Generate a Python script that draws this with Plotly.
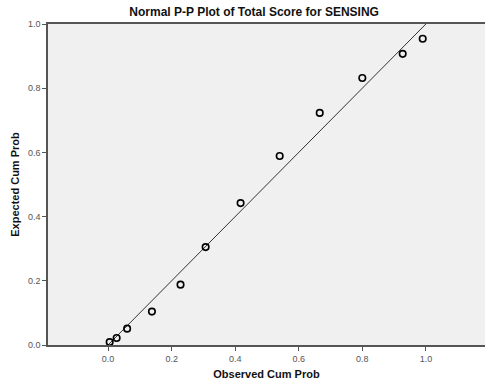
import plotly.graph_objects as go

observed = [0.005, 0.027, 0.060, 0.138, 0.228, 0.307, 0.417, 0.540, 0.666, 0.800, 0.927, 0.990]
expected = [0.009, 0.022, 0.051, 0.104, 0.188, 0.305, 0.442, 0.589, 0.723, 0.832, 0.907, 0.954]
ref_line = [0.0, 1.0]
tick_vals = [0.0, 0.2, 0.4, 0.6, 0.8, 1.0]
tick_text = ["0.0", "0.2", "0.4", "0.6", "0.8", "1.0"]

fig = go.Figure()
fig.add_trace(go.Scatter(x=ref_line, y=ref_line, mode="lines",
                         line=dict(color="#333333", width=1), hoverinfo="skip"))
fig.add_trace(go.Scatter(x=observed, y=expected, mode="markers",
                         marker=dict(symbol="circle-open", size=6.5, color="black",
                                     line=dict(width=1.6, color="black"))))

axis_common = dict(showgrid=False, zeroline=False, showline=True, linecolor="#555555",
                   linewidth=1.5, ticks="outside", ticklen=4, tickcolor="#555555",
                   tickvals=tick_vals, ticktext=tick_text,
                   tickfont=dict(family="Liberation Sans, Arial", size=9, color="#555555"))

fig.update_layout(
    width=485, height=385,
    margin=dict(l=48, r=0, t=24, b=40),
    paper_bgcolor="white", plot_bgcolor="#F0F0F0",
    showlegend=False,
    title=dict(text="<b>Normal P-P Plot of Total Score for SENSING</b>",
               x=0.524, xanchor="center", y=1 - 12 / 385, yanchor="middle",
               font=dict(family="Liberation Sans, Arial", size=12, color="#111111")),
    xaxis=dict(range=[-0.189, 1.186], mirror=True, **axis_common,
               title=dict(text="<b>Observed Cum Prob</b>", standoff=8,
                          font=dict(family="Liberation Sans, Arial", size=11, color="#111111"))),
    yaxis=dict(range=[0, 1.0], **axis_common,
               title=dict(text="<b>Expected Cum Prob</b>", standoff=6,
                          font=dict(family="Liberation Sans, Arial", size=11, color="#111111"))),
)

fig.write_html("out.html")
